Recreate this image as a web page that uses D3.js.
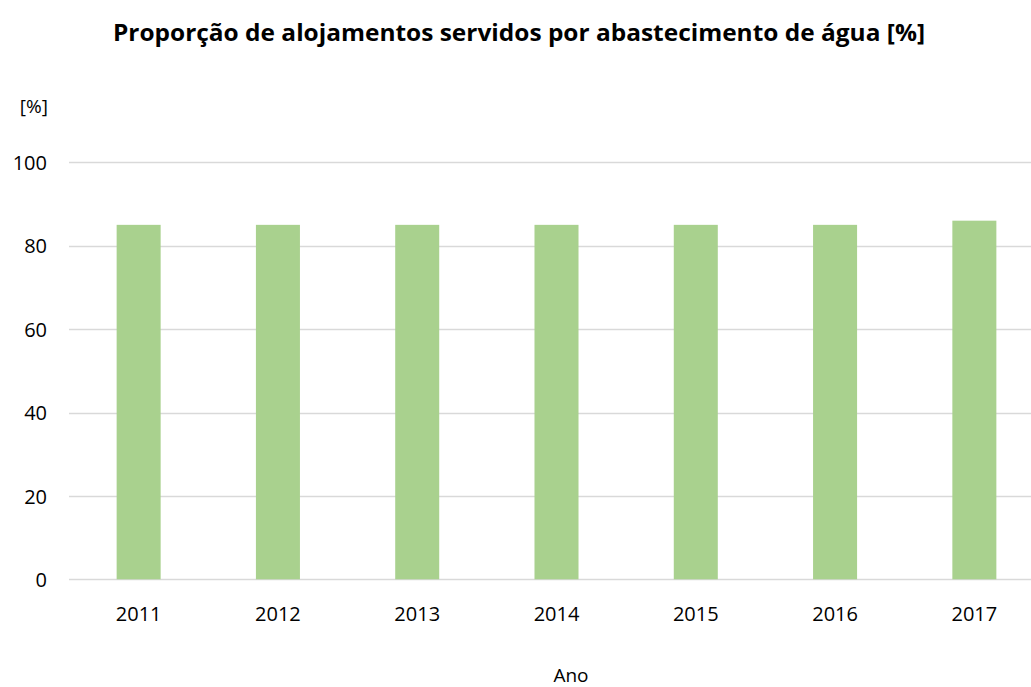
<!DOCTYPE html>
<html>
<head>
<meta charset="utf-8">
<script src="https://cdn.jsdelivr.net/npm/d3@7"></script>
<style>
  body { margin: 0; background: #fff; }
  text { font-family: "Open Sans", sans-serif; fill: #000; }
</style>
</head>
<body>
<script>
var years = ['2011', '2012', '2013', '2014', '2015', '2016', '2017'];
var values = [85, 85, 85, 85, 85, 85, 86];
var yTicks = [0, 20, 40, 60, 80, 100];

var width = 1031, height = 687;
var svg = d3.select('body').append('svg').attr('width', width).attr('height', height);

var x = d3.scaleBand().domain(years).range([69, 1044]).paddingInner(0.684).paddingOuter(0.342);
var y = d3.scaleLinear().domain([0, 100]).range([579.3, 162.3]);

// gridlines
svg.selectAll('line.grid')
    .data(yTicks)
    .enter()
    .append('line')
    .attr('class', 'grid')
    .attr('x1', 69)
    .attr('x2', 1044)
    .attr('y1', function (d) { return Math.round(y(d)) + 0.5; })
    .attr('y2', function (d) { return Math.round(y(d)) + 0.5; })
    .attr('stroke', '#d9d9d9')
    .attr('stroke-width', 1.3);

// bars
svg.selectAll('rect')
    .data(values)
    .enter()
    .append('rect')
    .attr('x', function (d, i) { return x(years[i]); })
    .attr('width', x.bandwidth())
    .attr('y', function (d) { return y(d); })
    .attr('height', function (d) { return y(0) - y(d); })
    .attr('fill', '#a9d18e');

// y axis labels
var yAxis = d3.axisLeft(y).tickValues(yTicks).tickSize(0).tickPadding(0);
svg.append('g')
    .attr('transform', 'translate(47,0)')
    .call(yAxis)
    .call(function (g) { g.select('.domain').remove(); })
    .selectAll('text')
    .attr('font-size', '20px')
    .attr('font-family', '"Open Sans", sans-serif')
    .attr('fill', '#000')
    .attr('dy', '0.36em');

// x axis labels
var xAxis = d3.axisBottom(x).tickSize(0).tickPadding(0);
svg.append('g')
    .attr('transform', 'translate(0,621)')
    .call(xAxis)
    .call(function (g) { g.select('.domain').remove(); })
    .selectAll('text')
    .attr('font-size', '20px')
    .attr('font-family', '"Open Sans", sans-serif')
    .attr('fill', '#000')
    .attr('dy', '0');

// unit label
svg.append('text')
    .attr('x', 48)
    .attr('y', 113)
    .attr('text-anchor', 'end')
    .attr('font-size', '19px')
    .text('[%]');

// axis title
svg.append('text')
    .attr('x', 571)
    .attr('y', 682)
    .attr('text-anchor', 'middle')
    .attr('font-size', '19px')
    .text('Ano');

// chart title
svg.append('text')
    .attr('x', 113)
    .attr('y', 41)
    .attr('text-anchor', 'start')
    .attr('font-size', '23px')
    .attr('font-weight', 'bold')
    .attr('textLength', 812)
    .attr('lengthAdjust', 'spacingAndGlyphs')
    .text('Proporção de alojamentos servidos por abastecimento de água [%]');
</script>
</body>
</html>
